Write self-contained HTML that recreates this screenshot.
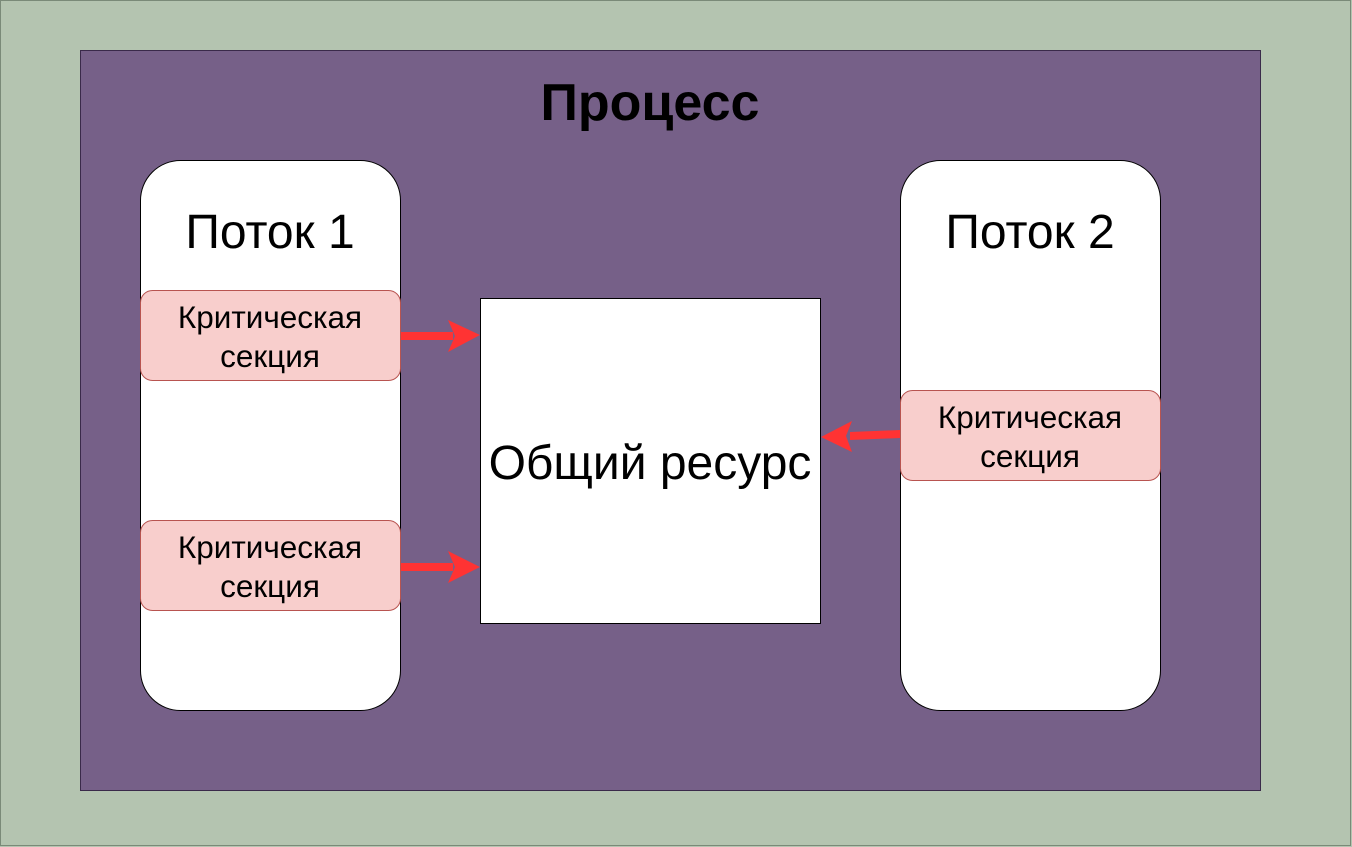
<!DOCTYPE html>
<html><head><meta charset="utf-8"><style>
html,body{margin:0;padding:0;width:1352px;height:847px;overflow:hidden;background:#b4c4b0;}
svg{display:block}
text{font-family:"Liberation Sans",sans-serif;}
</style></head><body>
<svg width="1352" height="847" viewBox="0 0 1352 847">
<rect x="0.5" y="0.5" width="1350" height="845" fill="#b4c4b0" stroke="#7a8a78"/>
<rect x="80.5" y="50.5" width="1180" height="740" fill="#766088" stroke="#3a2a4a"/>
<text x="650" y="120" font-size="52" font-weight="bold" text-anchor="middle">Процесс</text>
<rect x="140.5" y="160.5" width="260" height="550" rx="40" fill="#fff" stroke="#000"/>
<rect x="900.5" y="160.5" width="260" height="550" rx="40" fill="#fff" stroke="#000"/>
<text x="270" y="248" font-size="48" text-anchor="middle">Поток 1</text>
<text x="1030" y="248" font-size="48" text-anchor="middle">Поток 2</text>
<rect x="480.5" y="298.5" width="340" height="325" fill="#fff" stroke="#000"/>
<text x="650" y="479" font-size="48" text-anchor="middle">Общий ресурс</text>
<g fill="#f8cecc" stroke="#b85450">
<rect x="140.5" y="290.5" width="260" height="90" rx="12"/>
<rect x="140.5" y="520.5" width="260" height="90" rx="12"/>
<rect x="900.5" y="390.5" width="260" height="90" rx="12"/>
</g>
<g font-size="31.5" text-anchor="middle">
<text x="270" y="328">Критическая</text><text x="270" y="367">секция</text>
<text x="270" y="558">Критическая</text><text x="270" y="597">секция</text>
<text x="1030" y="428">Критическая</text><text x="1030" y="467">секция</text>
</g>
<g fill="#ff3333">
<rect x="401" y="332" width="52" height="8"/>
<polygon points="448,320 480,335 448,352 455,336"/>
<rect x="401" y="563" width="52" height="8"/>
<polygon points="448,551 480,567 448,583 455,567"/>
<polygon points="900,430 850,432 850,440 900,438"/>
<polygon points="852,421 821,437 852,452 846,436"/>
</g>
</svg>
</body></html>
